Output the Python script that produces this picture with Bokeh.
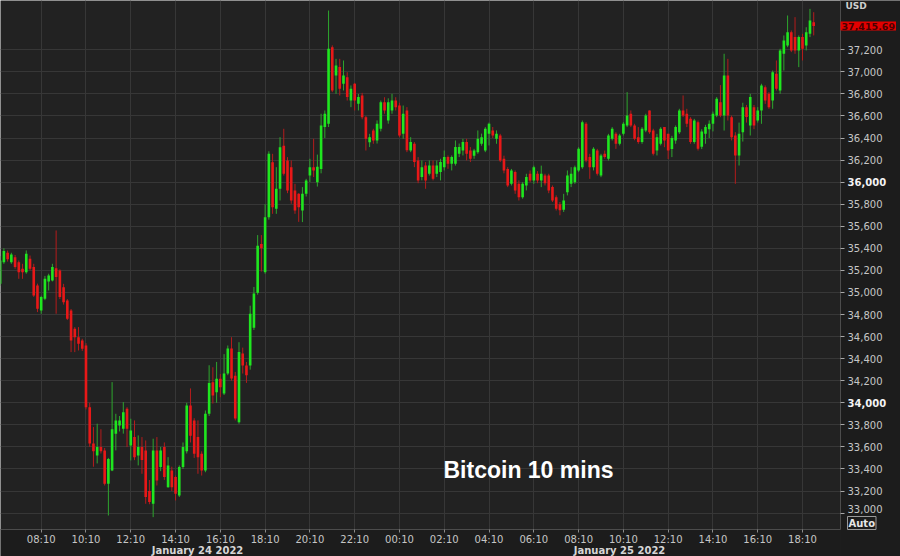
import pandas as pd
from bokeh.plotting import figure
from bokeh.models import (ColumnDataSource, FixedTicker, DatetimeTickFormatter,
                          NumeralTickFormatter, Range1d, Label, LinearAxis,
                          BoxAnnotation)
from bokeh.embed import file_html
from bokeh.resources import INLINE

# ---------------- data ----------------
first_candle = "2022-01-24 06:20"   # 10-minute candles

opens = [35078, 35275, 35360, 35275, 35320, 35275, 35214, 35184, 35305, 35230,
         35063, 34837, 34943, 35100, 35109, 35220, 35199, 35048, 34927, 34837,
         34671, 34595, 34565, 34520, 33960, 33630, 33522, 33600, 33568, 33265,
         33386, 33719, 33794, 33764, 33946, 33613, 33689, 33522, 33600, 33568,
         33200, 33084, 33568, 33417, 33598, 33235, 33386, 33326, 33160, 33417,
         33560, 33976, 33840, 33689, 33537, 33386, 33900, 34187, 34096, 34218,
         34083, 34265, 34492, 34245, 33823, 34447, 34338, 34338, 34680, 34997,
         35440, 35184, 35682, 36181, 35760, 35940, 36330, 36197, 36136, 35925,
         35894, 35743, 35894, 36060, 36136, 36000, 36120, 36500, 36530, 37224,
         36967, 37043, 36892, 36952, 36740, 36892, 36710, 36786, 36589, 36362,
         36468, 36378, 36484, 36725, 36560, 36650, 36741, 36695, 36438, 36650,
         36287, 36348, 36197, 36046, 36150, 36076, 36150, 36076, 36091, 36136,
         36227, 36167, 36167, 36257, 36287, 36363, 36287, 36240, 36272, 36348,
         36287, 36438, 36469, 36393, 36423, 36212, 36120, 35985, 36091, 35985,
         35864, 35970, 36076, 36016, 36076, 36016, 36060, 36060, 35955, 35864,
         35800, 35750, 35909, 35985, 36000, 36106, 36136, 36529, 36227, 36136,
         36287, 36060, 36257, 36212, 36393, 36438, 36348, 36438, 36514, 36620,
         36514, 36408, 36363, 36468, 36650, 36468, 36287, 36348, 36499, 36438,
         36300, 36378, 36453, 36650, 36620, 36574, 36363, 36544, 36320, 36438,
         36480, 36529, 36604, 36725, 36604, 36967, 36589, 36423, 36242, 36453,
         36680, 36514, 36680, 36560, 36650, 36861, 36801, 36740, 36982, 36831,
         37164, 37240, 37360, 37315, 37194, 37315, 37240, 37345, 37450]

highs = [35330, 35400, 35380, 35360, 35340, 35290, 35260, 35381, 35335, 35260,
         35080, 34970, 35150, 35170, 35260, 35562, 35210, 35078, 34940, 34850,
         34686, 34686, 34580, 34540, 34000, 33780, 33810, 33760, 33590, 33500,
         34187, 33900, 33880, 34006, 33960, 33855, 33840, 33704, 33689, 33658,
         33300, 33674, 33689, 33600, 33640, 33507, 33420, 33340, 33432, 33640,
         34000, 34130, 33860, 33840, 33560, 33930, 34340, 34322, 34370, 34260,
         34441, 34519, 34594, 34280, 34549, 34500, 34370, 34880, 35050, 35520,
         35520, 35800, 36280, 36257, 36136, 36408, 36484, 36227, 36197, 35985,
         35900, 35955, 36030, 36212, 36393, 36250, 36620, 36650, 37556, 37240,
         37118, 37118, 37103, 36997, 36877, 36900, 36800, 36810, 36600, 36438,
         36484, 36560, 36740, 36770, 36760, 36801, 36770, 36720, 36695, 36680,
         36408, 36363, 36227, 36197, 36182, 36197, 36197, 36197, 36212, 36287,
         36242, 36242, 36378, 36350, 36393, 36393, 36318, 36302, 36469, 36440,
         36499, 36540, 36500, 36469, 36438, 36240, 36136, 36120, 36106, 36016,
         36000, 36076, 36106, 36150, 36100, 36150, 36076, 36076, 35970, 35880,
         35820, 35894, 36106, 36136, 36150, 36317, 36559, 36544, 36257, 36317,
         36302, 36257, 36287, 36438, 36499, 36453, 36438, 36544, 36816, 36650,
         36529, 36499, 36499, 36620, 36650, 36484, 36438, 36499, 36499, 36438,
         36420, 36514, 36665, 36786, 36665, 36589, 36574, 36559, 36480, 36520,
         36560, 36640, 36771, 36880, 37164, 37118, 36604, 36453, 36540, 36720,
         36700, 36801, 36700, 36680, 36892, 36877, 36816, 37012, 37103, 37209,
         37330, 37511, 37375, 37496, 37330, 37345, 37405, 37571, 37541]

lows = [35060, 35260, 35280, 35260, 35215, 35124, 35124, 35170, 35200, 34960,
        34822, 34807, 34930, 35018, 35100, 34807, 34940, 34890, 34750, 34459,
        34459, 34474, 34470, 33940, 33600, 33420, 33450, 33540, 33250, 32978,
        33380, 33568, 33740, 33720, 33598, 33477, 33480, 33432, 33356, 33084,
        33080, 32963, 33250, 33380, 33300, 33230, 33200, 33114, 33145, 33400,
        33540, 33640, 33500, 33356, 33340, 33370, 33880, 33993, 34000, 34050,
        34070, 34250, 34200, 33840, 33810, 34265, 34180, 34300, 34660, 34980,
        35190, 35170, 35660, 35713, 35713, 35834, 36060, 35900, 35804, 35713,
        35640, 35638, 35870, 36000, 36046, 35960, 36080, 36400, 36500, 36816,
        36801, 36786, 36831, 36740, 36680, 36650, 36650, 36570, 36287, 36318,
        36348, 36350, 36460, 36620, 36530, 36620, 36650, 36408, 36393, 36272,
        36272, 36136, 35990, 36016, 35940, 36060, 36016, 36046, 36016, 36106,
        36121, 36106, 36150, 36227, 36242, 36197, 36182, 36212, 36257, 36330,
        36272, 36333, 36400, 36348, 36182, 36080, 35955, 35970, 35894, 35834,
        35850, 35925, 36000, 35985, 35990, 35955, 35970, 35900, 35820, 35743,
        35700, 35730, 35880, 35955, 35985, 36091, 36121, 36180, 36030, 36106,
        36060, 36045, 36212, 36196, 36378, 36302, 36333, 36423, 36499, 36499,
        36380, 36348, 36348, 36453, 36438, 36242, 36242, 36333, 36317, 36210,
        36227, 36348, 36438, 36590, 36499, 36348, 36348, 36287, 36300, 36348,
        36400, 36460, 36589, 36589, 36468, 36559, 36378, 35985, 36151, 36368,
        36540, 36423, 36480, 36540, 36529, 36710, 36665, 36665, 36831, 36801,
        37012, 37224, 37179, 37164, 37043, 37103, 37194, 37315, 37330]

closes = [35290, 35375, 35300, 35345, 35230, 35184, 35184, 35350, 35214, 34973,
          34852, 34958, 35124, 35154, 35230, 35140, 34958, 34912, 34761, 34565,
          34595, 34535, 34489, 33960, 33630, 33560, 33598, 33560, 33265, 33490,
          33760, 33840, 33840, 33915, 33764, 33749, 33507, 33598, 33480, 33145,
          33100, 33568, 33296, 33568, 33326, 33432, 33235, 33175, 33417, 33598,
          33976, 33700, 33537, 33507, 33386, 33900, 34180, 34066, 34218, 34140,
          34265, 34492, 34220, 33858, 34460, 34338, 34250, 34807, 34990, 35423,
          35400, 35682, 36257, 35773, 35940, 36317, 36076, 35925, 35834, 35743,
          35773, 35894, 36016, 36136, 36106, 36140, 36514, 36620, 37209, 36831,
          37058, 36846, 36967, 36771, 36846, 36740, 36771, 36589, 36393, 36408,
          36378, 36529, 36725, 36650, 36725, 36741, 36680, 36423, 36620, 36290,
          36363, 36182, 36016, 36136, 36016, 36150, 36030, 36150, 36182, 36227,
          36167, 36227, 36318, 36318, 36363, 36257, 36212, 36287, 36393, 36408,
          36484, 36530, 36423, 36438, 36197, 36106, 35970, 36106, 35925, 35864,
          35985, 36046, 36016, 36136, 36016, 36076, 35990, 35925, 35834, 35760,
          35745, 35834, 36060, 36076, 36136, 36302, 36544, 36196, 36136, 36302,
          36076, 36242, 36227, 36423, 36484, 36348, 36423, 36529, 36604, 36514,
          36393, 36363, 36484, 36604, 36453, 36257, 36408, 36484, 36378, 36287,
          36400, 36499, 36650, 36604, 36529, 36363, 36559, 36302, 36460, 36499,
          36529, 36620, 36756, 36604, 36967, 36604, 36408, 36242, 36438, 36680,
          36590, 36771, 36514, 36650, 36877, 36740, 36680, 36997, 36846, 37194,
          37285, 37360, 37194, 37194, 37315, 37209, 37360, 37466, 37416]

price_ticks = list(range(33000, 37201, 200))
bold_price_ticks = [34000, 36000]
time_ticks = pd.date_range("2022-01-24 06:10", "2022-01-25 18:10", freq="2h")
date_labels = ["January 24 2022", "January 25 2022"]
last_price = 37415.69
last_price_text = "37,415.69"
currency = "USD"
chart_title = "Bitcoin 10 mins"

# ---------------- layout helpers (canvas pixel <-> data) ----------------
W, H = 900, 556
SLOT0 = pd.Timestamp("2022-01-24 06:10")
SLOT_MS = 10 * 60 * 1000
PX_PER_SLOT, X_SLOT0 = 3.7319, -4.08
PX_PER_USD, Y_REF_PX, Y_REF_P = 0.1103, 49.3, 37200


def ms(ts):
    return int(pd.Timestamp(ts).value // 10**6)


def x_of_px(px):
    return ms(SLOT0) + (px - X_SLOT0) / PX_PER_SLOT * SLOT_MS


def p_of_px(py):
    return Y_REF_P + (Y_REF_PX - py) / PX_PER_USD


AXIS_X_PX, AXIS_Y_PX = 840, 528.5

# ---------------- candles ----------------
times = pd.date_range(first_candle, periods=len(opens), freq="10min")
GREEN, GREEN_WICK = "#1fe61f", "#2ea62e"
RED, RED_WICK = "#e81818", "#b41c1c"

up = [c >= o for o, c in zip(opens, closes)]
tops = [max(o, c) for o, c in zip(opens, closes)]
bottoms = [min(o, c) for o, c in zip(opens, closes)]
tops = [t if t - b >= 8 else b + 8 for t, b in zip(tops, bottoms)]

src = ColumnDataSource(dict(
    x=times, open=opens, high=highs, low=lows, close=closes,
    top=tops, bottom=bottoms,
    body=[GREEN if u else RED for u in up],
    wick=[GREEN_WICK if u else RED_WICK for u in up],
))

PLOT_BG, MARGIN_BG = "#222222", "#1c1c1c"

p = figure(width=W, height=H,
           x_axis_type="datetime", y_axis_location="right",
           x_range=Range1d(x_of_px(0), x_of_px(W)),
           y_range=Range1d(p_of_px(H), p_of_px(0)),
           output_backend="svg", toolbar_location=None,
           min_border=0, min_border_left=0, min_border_right=0,
           min_border_top=0, min_border_bottom=0,
           background_fill_color=PLOT_BG, border_fill_color=MARGIN_BG,
           outline_line_color=None)

# grids
p.xgrid.ticker = FixedTicker(ticks=[ms(t) for t in time_ticks])
p.ygrid.ticker = FixedTicker(ticks=price_ticks)
for g in (p.xgrid, p.ygrid):
    g.grid_line_color = "#373737"
    g.grid_line_width = 1

# margin panels (cover the grid outside the chart area)
p.add_layout(BoxAnnotation(left=x_of_px(AXIS_X_PX), fill_color=MARGIN_BG,
                           fill_alpha=1, line_color=None, level="underlay"))
p.add_layout(BoxAnnotation(top=p_of_px(AXIS_Y_PX), right=x_of_px(AXIS_X_PX),
                           fill_color=MARGIN_BG, fill_alpha=1, line_color=None,
                           level="underlay"))

body_w = SLOT_MS * 0.70
p.segment(x0="x", y0="high", x1="x", y1="low", line_color="wick",
          line_width=1, source=src)
p.vbar(x="x", width=body_w, top="top", bottom="bottom", fill_color="body",
       line_color=None, source=src)

LABEL_FONT = "DejaVu Sans"
LABEL_COLOR = "#c6c6c6"

# x axis (time)
xa = p.xaxis[0]
xa.fixed_location = p_of_px(AXIS_Y_PX)
xa.bounds = (x_of_px(-40), x_of_px(AXIS_X_PX))
xa.ticker = FixedTicker(ticks=[ms(t) for t in time_ticks])
xa.formatter = DatetimeTickFormatter(hours="%H:%M", hourmin="%H:%M",
                                     minutes="%H:%M", days="%H:%M")
xa.major_label_text_font = LABEL_FONT
xa.major_label_text_font_size = "10px"
xa.major_label_text_color = LABEL_COLOR
xa.major_tick_out = 3
xa.major_tick_in = 0
xa.minor_tick_line_color = None
xa.major_tick_line_color = "#8a8a8a"
xa.axis_line_color = "#4c4c4c"
xa.major_label_standoff = 2

# second x axis carrying the date captions
date_pos = [int(round(x_of_px(197))), int(round(x_of_px(619)))]
da = LinearAxis(ticker=FixedTicker(ticks=date_pos),
                major_label_overrides=dict(zip(date_pos, date_labels)),
                fixed_location=p_of_px(AXIS_Y_PX),
                axis_line_color=None, major_tick_line_color=None,
                minor_tick_line_color=None, major_tick_out=0, major_tick_in=0,
                major_label_standoff=16,
                major_label_text_font=LABEL_FONT,
                major_label_text_font_size="10px",
                major_label_text_font_style="bold",
                major_label_text_color="#d6d6d6")
p.add_layout(da, "below")

# y axis (right, price)
ya = p.yaxis[0]
ya.fixed_location = x_of_px(AXIS_X_PX)
ya.bounds = (p_of_px(AXIS_Y_PX), p_of_px(0))
ya.ticker = FixedTicker(ticks=price_ticks)
ya.formatter = NumeralTickFormatter(format="0,0")
ya.major_label_overrides = {t: "" for t in bold_price_ticks + [price_ticks[0]]}
ya.major_label_text_font = LABEL_FONT
ya.major_label_text_font_size = "10px"
ya.major_label_text_color = LABEL_COLOR
ya.major_tick_out = 4
ya.major_tick_in = 0
ya.minor_tick_line_color = None
ya.major_tick_line_color = "#a8a8a8"
ya.axis_line_color = "#4c4c4c"
ya.major_label_standoff = 3

label_x = AXIS_X_PX + 7

for t in bold_price_ticks:
    p.add_layout(Label(x=label_x, y=t, x_units="screen", y_units="data",
                       text=f"{t:,}", text_font=LABEL_FONT,
                       text_font_size="10px", text_font_style="bold",
                       text_color="#f4f4f4", text_baseline="middle",
                       text_align="left"))
p.add_layout(Label(x=label_x, y=price_ticks[0], x_units="screen", y_units="data",
                   y_offset=4, text=f"{price_ticks[0]:,}", text_font=LABEL_FONT,
                   text_font_size="10px", text_color=LABEL_COLOR,
                   text_baseline="middle", text_align="left"))

# last price box
p.add_layout(Label(x=AXIS_X_PX, y=last_price, x_units="screen",
                   y_units="data", text=last_price_text, text_font=LABEL_FONT,
                   text_font_size="9.5px", text_font_style="bold",
                   text_color="#4a0000", background_fill_color="#e30000",
                   padding=1, text_baseline="middle", text_align="left"))

# currency label (top right)
p.add_layout(Label(x=845, y=H, x_units="screen", y_units="screen",
                   text=currency, text_font=LABEL_FONT, text_font_size="9px",
                   text_font_style="bold", text_color="#cfcfcf",
                   text_baseline="top", text_align="left"))

# Auto button (bottom right)
p.add_layout(Label(x=847, y=H - 516, x_units="screen",
                   y_units="screen", text="Auto", text_font=LABEL_FONT,
                   text_font_size="10px", text_font_style="bold",
                   text_color="#e6e6e6", border_line_color="#9a9a9a",
                   background_fill_color=MARGIN_BG, padding=1,
                   text_baseline="top", text_align="left"))

# chart title inside the plot
p.add_layout(Label(x=443, y=H - 469, x_units="screen",
                   y_units="screen", text=chart_title,
                   text_font="Liberation Sans", text_font_size="23px",
                   text_font_style="bold", text_color="#ffffff",
                   text_baseline="alphabetic", text_align="left"))

open("out.html", "w").write(file_html(p, INLINE))
